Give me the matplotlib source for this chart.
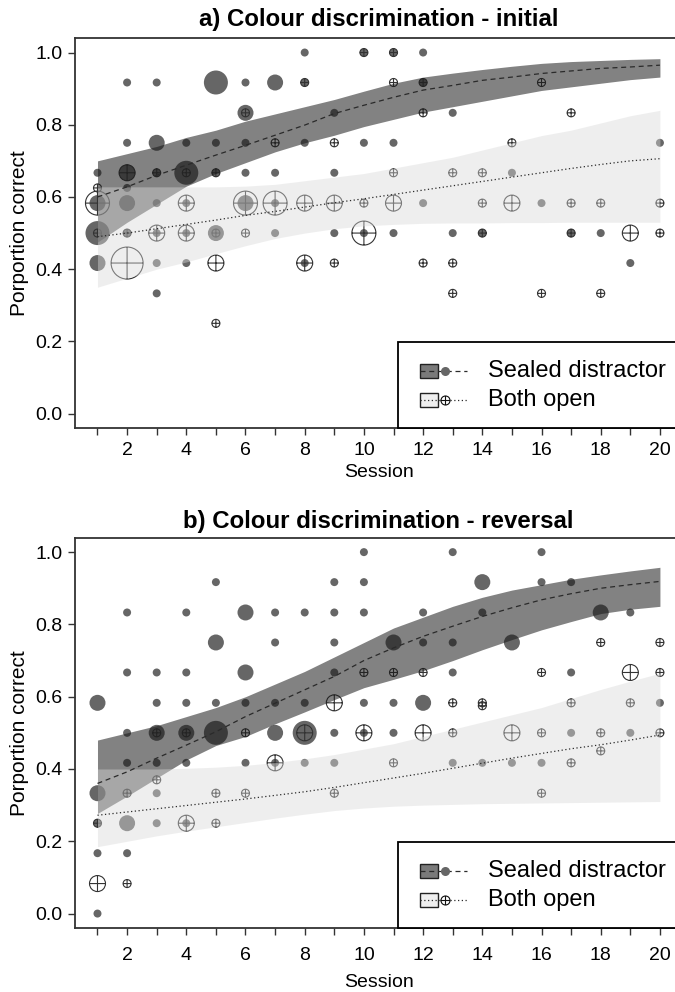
import numpy as np
import matplotlib
matplotlib.use("Agg")
import matplotlib.pyplot as plt
from matplotlib.path import Path
from matplotlib.patches import Rectangle
from matplotlib.lines import Line2D

plt.rcParams['font.family'] = ['Liberation Sans', 'DejaVu Sans']

sessions = np.arange(1, 21)
x_tick_labels = [str(s) if s % 2 == 0 else '' for s in sessions]
y_ticks = [0.0, 0.2, 0.4, 0.6, 0.8, 1.0]
y_tick_labels = ['0.0', '0.2', '0.4', '0.6', '0.8', '1.0']

# ---------------- a) initial ----------------
a_sealed_session = [1, 1, 1, 1,
                    2, 2, 2, 2, 2, 2,
                    3, 3, 3, 3, 3, 3, 3,
                    4, 4, 4, 4, 4,
                    5, 5, 5, 5,
                    6, 6, 6, 6, 6,
                    7, 7, 7, 7,
                    8, 8, 8, 8,
                    9, 9, 9,
                    10, 10, 10,
                    11, 11, 11,
                    12, 12, 12,
                    13, 13,
                    14, 15, 16, 17, 18, 19, 20]
a_sealed_prop = [0.667, 0.583, 0.5, 0.417,
                 0.917, 0.75, 0.667, 0.625, 0.583, 0.5,
                 0.917, 0.75, 0.667, 0.583, 0.5, 0.417, 0.333,
                 0.75, 0.667, 0.583, 0.5, 0.417,
                 0.917, 0.75, 0.667, 0.5,
                 0.917, 0.833, 0.75, 0.667, 0.583,
                 0.917, 0.667, 0.583, 0.5,
                 1.0, 0.917, 0.75, 0.417,
                 0.833, 0.667, 0.5,
                 1.0, 0.75, 0.5,
                 1.0, 0.75, 0.5,
                 1.0, 0.917, 0.583,
                 0.833, 0.5,
                 0.5, 0.667, 0.583, 0.5, 0.5, 0.417, 0.75]
a_sealed_n = [1, 2, 3, 2,
              1, 1, 2, 1, 2, 1,
              1, 2, 1, 1, 1, 1, 1,
              1, 3, 1, 1, 1,
              3, 1, 1, 2,
              1, 2, 1, 1, 2,
              2, 1, 1, 1,
              1, 1, 1, 1,
              1, 1, 1,
              1, 1, 1,
              1, 1, 1,
              1, 1, 1,
              1, 1,
              1, 1, 1, 1, 1, 1, 1]

a_open_session = [1, 1, 1,
                  2, 2, 2,
                  3, 3,
                  4, 4, 4,
                  5, 5, 5, 5,
                  6, 6, 6,
                  7, 7,
                  8, 8, 8,
                  9, 9, 9,
                  10, 10, 10,
                  11, 11, 11, 11,
                  12, 12, 12,
                  13, 13, 13,
                  14, 14, 14,
                  15, 15,
                  16, 16,
                  17, 17, 17,
                  18, 18,
                  19,
                  20, 20]
a_open_prop = [0.625, 0.583, 0.5,
               0.667, 0.5, 0.417,
               0.667, 0.5,
               0.667, 0.583, 0.5,
               0.667, 0.5, 0.417, 0.25,
               0.833, 0.583, 0.5,
               0.75, 0.583,
               0.917, 0.583, 0.417,
               0.75, 0.583, 0.417,
               1.0, 0.583, 0.5,
               1.0, 0.917, 0.667, 0.583,
               0.917, 0.833, 0.417,
               0.667, 0.417, 0.333,
               0.667, 0.583, 0.5,
               0.75, 0.583,
               0.917, 0.333,
               0.833, 0.583, 0.5,
               0.583, 0.333,
               0.5,
               0.583, 0.5]
a_open_n = [1, 3, 1,
            2, 1, 4,
            1, 2,
            1, 2, 2,
            1, 1, 2, 1,
            1, 3, 1,
            1, 3,
            1, 2, 2,
            1, 2, 1,
            1, 1, 3,
            1, 1, 1, 2,
            1, 1, 1,
            1, 1, 1,
            1, 1, 1,
            1, 2,
            1, 1,
            1, 1, 1,
            1, 1,
            2,
            1, 1]

a_sealed_fit = [0.600, 0.628, 0.660, 0.688, 0.716, 0.743, 0.771, 0.799, 0.831, 0.854,
                0.876, 0.896, 0.909, 0.923, 0.932, 0.942, 0.949, 0.956, 0.960, 0.965]
a_sealed_lo = [0.475, 0.530, 0.580, 0.630, 0.665, 0.695, 0.725, 0.750, 0.771, 0.795,
               0.815, 0.835, 0.850, 0.865, 0.880, 0.895, 0.905, 0.915, 0.925, 0.932]
a_sealed_hi = [0.700, 0.720, 0.740, 0.765, 0.785, 0.810, 0.830, 0.850, 0.870, 0.893,
               0.915, 0.932, 0.943, 0.953, 0.962, 0.970, 0.975, 0.978, 0.981, 0.983]
a_open_fit = [0.490, 0.500, 0.512, 0.524, 0.536, 0.549, 0.560, 0.572, 0.584, 0.595,
              0.607, 0.619, 0.631, 0.643, 0.655, 0.667, 0.679, 0.690, 0.700, 0.706]
a_open_lo = [0.350, 0.375, 0.400, 0.420, 0.443, 0.465, 0.485, 0.500, 0.512, 0.520,
             0.524, 0.527, 0.528, 0.528, 0.529, 0.529, 0.530, 0.530, 0.530, 0.530]
a_open_hi = [0.628, 0.628, 0.628, 0.628, 0.628, 0.630, 0.635, 0.645, 0.655, 0.665,
             0.680, 0.695, 0.710, 0.730, 0.750, 0.770, 0.785, 0.805, 0.825, 0.840]

# ---------------- b) reversal ----------------
b_sealed_session = [1, 1, 1, 1, 1,
                    2, 2, 2, 2, 2, 2,
                    3, 3, 3, 3, 3, 3,
                    4, 4, 4, 4, 4, 4,
                    5, 5, 5, 5,
                    6, 6, 6, 6,
                    7, 7, 7, 7, 7,
                    8, 8, 8, 8,
                    9, 9, 9, 9, 9, 9,
                    10, 10, 10, 10, 10,
                    11, 11, 11,
                    12, 12, 12,
                    13, 13, 13, 13,
                    14, 14, 14,
                    15, 15,
                    16, 16, 16,
                    17, 17, 17,
                    18,
                    19, 19,
                    20]
b_sealed_prop = [0.583, 0.333, 0.25, 0.167, 0.0,
                 0.833, 0.667, 0.5, 0.417, 0.25, 0.167,
                 0.667, 0.583, 0.5, 0.417, 0.333, 0.25,
                 0.833, 0.667, 0.583, 0.5, 0.417, 0.25,
                 0.917, 0.75, 0.583, 0.5,
                 0.833, 0.667, 0.583, 0.417,
                 0.833, 0.75, 0.583, 0.5, 0.417,
                 0.833, 0.583, 0.5, 0.417,
                 0.917, 0.833, 0.75, 0.667, 0.5, 0.417,
                 1.0, 0.917, 0.833, 0.583, 0.5,
                 0.75, 0.583, 0.5,
                 0.833, 0.75, 0.583,
                 1.0, 0.75, 0.667, 0.417,
                 0.917, 0.833, 0.417,
                 0.75, 0.417,
                 1.0, 0.917, 0.417,
                 0.917, 0.667, 0.5,
                 0.833,
                 0.833, 0.5,
                 0.583]
b_sealed_n = [2, 2, 1, 1, 1,
              1, 1, 1, 1, 2, 1,
              1, 1, 2, 1, 1, 1,
              1, 1, 1, 2, 1, 1,
              1, 2, 1, 3,
              2, 2, 1, 1,
              1, 1, 1, 2, 1,
              1, 1, 3, 1,
              1, 1, 1, 1, 1, 1,
              1, 1, 1, 1, 1,
              2, 1, 1,
              1, 1, 2,
              1, 1, 1, 1,
              2, 1, 1,
              2, 1,
              1, 1, 1,
              1, 1, 1,
              2,
              1, 1,
              1]

b_open_session = [1, 1, 2, 2, 3, 3, 4, 4, 5, 5, 6, 6, 7, 8, 9, 9,
                  10, 10, 11, 11, 12, 12, 13, 13, 14, 14, 15,
                  16, 16, 16, 17, 17, 18, 18, 18, 19, 19, 20, 20, 20]
b_open_prop = [0.25, 0.083, 0.333, 0.083, 0.5, 0.37, 0.5, 0.25, 0.333, 0.25,
               0.5, 0.333, 0.417, 0.5, 0.583, 0.333,
               0.667, 0.5, 0.667, 0.417, 0.667, 0.5, 0.583, 0.5, 0.583, 0.575, 0.5,
               0.667, 0.5, 0.333, 0.583, 0.417, 0.75, 0.5, 0.45, 0.667, 0.583,
               0.75, 0.667, 0.5]
b_open_n = [1, 2, 1, 1, 1, 1, 1, 2, 1, 1, 1, 1, 2, 2, 2, 1,
            1, 2, 1, 1, 1, 2, 1, 1, 1, 1, 2,
            1, 1, 1, 1, 1, 1, 1, 1, 2, 1, 1, 1, 1]

b_sealed_fit = [0.360, 0.392, 0.430, 0.466, 0.503, 0.545, 0.582, 0.619, 0.656, 0.700,
                0.735, 0.767, 0.795, 0.822, 0.846, 0.868, 0.885, 0.900, 0.910, 0.919]
b_sealed_lo = [0.277, 0.325, 0.375, 0.425, 0.465, 0.490, 0.525, 0.558, 0.592, 0.625,
               0.648, 0.672, 0.700, 0.730, 0.758, 0.785, 0.808, 0.830, 0.842, 0.850]
b_sealed_hi = [0.480, 0.500, 0.520, 0.545, 0.570, 0.600, 0.635, 0.670, 0.710, 0.750,
               0.790, 0.820, 0.850, 0.875, 0.895, 0.910, 0.925, 0.937, 0.948, 0.958]
b_open_fit = [0.272, 0.281, 0.290, 0.299, 0.308, 0.317, 0.327, 0.337, 0.349, 0.362,
              0.375, 0.388, 0.402, 0.416, 0.430, 0.443, 0.456, 0.467, 0.480, 0.494]
b_open_lo = [0.185, 0.200, 0.215, 0.228, 0.240, 0.252, 0.264, 0.275, 0.285, 0.292,
             0.297, 0.300, 0.302, 0.304, 0.305, 0.306, 0.307, 0.308, 0.309, 0.310]
b_open_hi = [0.400, 0.400, 0.400, 0.402, 0.405, 0.410, 0.418, 0.428, 0.440, 0.455,
             0.470, 0.490, 0.510, 0.530, 0.550, 0.570, 0.595, 0.620, 0.643, 0.665]

legend_labels = ['Sealed distractor', 'Both open']

# ---------------- styling ----------------
DOT = '#666666'
CROSS_EDGE = '#333333'
DARK_BAND = '#181818'
LIGHT_BAND = '#d9d9d9'
LINE = '#2a2a2a'
SPINE = '#333333'

circ = Path.unit_circle()
cross_circle = Path(
    np.concatenate([circ.vertices, [[-1, 0], [1, 0], [0, -1], [0, 1]]]),
    np.concatenate([circ.codes, [Path.MOVETO, Path.LINETO, Path.MOVETO, Path.LINETO]]))


def size(n):
    # radius ~ 4 px per count at 100 dpi
    d = 2 * 4 * np.asarray(n, float) * 0.72
    return d ** 2


def draw_legend(ax):
    ax.add_patch(Rectangle((0.532, 0.0), 0.6, 0.221, transform=ax.transAxes,
                           facecolor='white', edgecolor='black', lw=1.3,
                           zorder=6, clip_on=False))
    rows = [0.147, 0.0726]
    faces = ['#7a7a7a', '#efefef']
    styles = [(0, (4, 3)), (0, (1, 2))]
    for i, y in enumerate(rows):
        ax.add_patch(Rectangle((0.568, y - 0.018), 0.0296, 0.036, transform=ax.transAxes,
                               facecolor=faces[i], edgecolor='#222222', lw=1.0, zorder=7))
        ax.add_line(Line2D([0.568, 0.645], [y, y], transform=ax.transAxes,
                           ls=styles[i], color=LINE, lw=0.9, zorder=8))
        if i == 0:
            ax.add_line(Line2D([0.609], [y], transform=ax.transAxes, marker='o',
                               ms=6.5, color=DOT, mec='none', zorder=9))
        else:
            ax.add_line(Line2D([0.609], [y], transform=ax.transAxes, marker=cross_circle,
                               ms=6.5, mfc='white', mec='#111111', mew=0.8, zorder=9))
        ax.text(0.68, y, legend_labels[i], transform=ax.transAxes, fontsize=17,
                va='center', ha='left', zorder=10)


def panel(ax, title, title_pad, tick_pad, xlabel_y,
          ss, sp, sn, os_, op, on, sfit, slo, shi, ofit, olo, ohi):
    ax.scatter(ss, sp, s=size(sn), c=DOT, edgecolors='none', zorder=2)
    ax.scatter(os_, op, s=size(on), marker=cross_circle, facecolors='none',
               edgecolors=CROSS_EDGE, linewidths=0.8, zorder=2.5)
    ax.fill_between(sessions, slo, shi, color=DARK_BAND, alpha=0.54, lw=0, zorder=3)
    ax.fill_between(sessions, olo, ohi, color=LIGHT_BAND, alpha=0.43, lw=0, zorder=3.5)
    ax.plot(sessions, sfit, ls=(0, (4, 3)), color=LINE, lw=0.9, zorder=4)
    ax.plot(sessions, ofit, ls=(0, (1, 2)), color=LINE, lw=0.9, zorder=4)

    ax.set_xlim(0.24, 20.76)
    ax.set_ylim(-0.04, 1.04)
    ax.set_xticks(sessions)
    ax.set_xticklabels(x_tick_labels)
    ax.set_yticks(y_ticks)
    ax.set_yticklabels(y_tick_labels)
    ax.tick_params(direction='out', length=5, width=1.0, color=SPINE, labelsize=14)
    ax.tick_params(axis='x', pad=tick_pad)
    ax.tick_params(axis='y', pad=4)
    for sp_ in ax.spines.values():
        sp_.set_color(SPINE)
        sp_.set_linewidth(1.3)
    ax.set_xlabel('Session', fontsize=14)
    ax.set_ylabel('Porportion correct', fontsize=15)
    ax.xaxis.set_label_coords(0.5, xlabel_y)
    ax.yaxis.set_label_coords(-0.075, 0.5)
    ax.set_title(title, fontsize=17.3, fontweight='bold', pad=title_pad)
    draw_legend(ax)


fig = plt.figure(figsize=(6.75, 9.92), dpi=100)
ax1 = fig.add_axes([0.1111, 0.5685, 0.8999, 0.3931])
ax2 = fig.add_axes([0.1111, 0.0645, 0.8999, 0.3935])

panel(ax1, 'a) Colour discrimination - initial', 9, 5, -0.093,
      a_sealed_session, a_sealed_prop, a_sealed_n,
      a_open_session, a_open_prop, a_open_n,
      a_sealed_fit, a_sealed_lo, a_sealed_hi, a_open_fit, a_open_lo, a_open_hi)
panel(ax2, 'b) Colour discrimination - reversal', 6.8, 9, -0.118,
      b_sealed_session, b_sealed_prop, b_sealed_n,
      b_open_session, b_open_prop, b_open_n,
      b_sealed_fit, b_sealed_lo, b_sealed_hi, b_open_fit, b_open_lo, b_open_hi)

fig.savefig('out.png', dpi=100)
